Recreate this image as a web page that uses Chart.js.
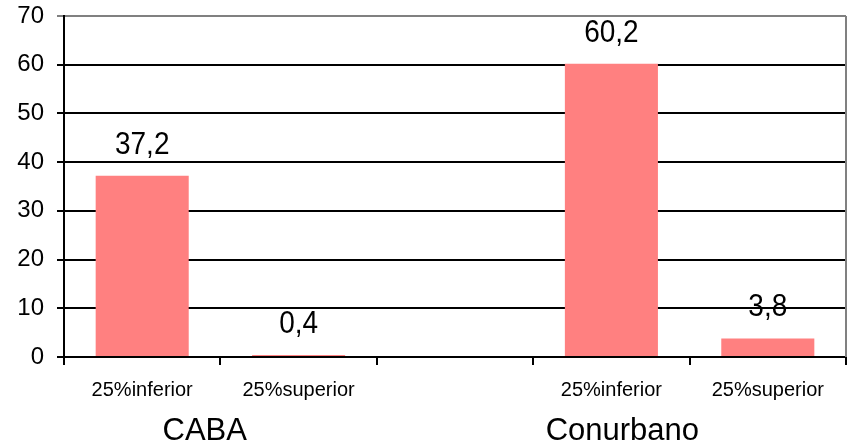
<!DOCTYPE html>
<html>
<head>
<meta charset="utf-8">
<script src="https://cdn.jsdelivr.net/npm/chart.js@4"></script>
<style>
  html, body { margin: 0; padding: 0; background: #fff; }
  #wrap { width: 849px; height: 445px; position: relative; }
</style>
</head>
<body>
<div id="wrap"><canvas id="chart"></canvas></div>
<script>
// Categories (empty slot separates the two groups)
const categories = ['25%inferior', '25%superior', '', '25%inferior', '25%superior'];
const values = [37.2, 0.4, null, 60.2, 3.8];
const valueLabels = ['37,2', '0,4', '', '60,2', '3,8'];
// Group names and their position on the category scale
const groupNames = ['CABA', 'Conurbano'];
const groupPos = [0.4, 3.07];

const FONT = '"Liberation Sans", Arial, sans-serif';

// value labels go under the grid, like the original
const valueLabelPlugin = {
    id: 'valueLabels',
    beforeDraw(chart) {
        const ctx = chart.ctx;
        const bars = chart.getDatasetMeta(0).data;
        ctx.save();
        ctx.fillStyle = '#000';
        ctx.font = '28px ' + FONT;
        ctx.textAlign = 'center';
        ctx.textBaseline = 'alphabetic';
        bars.forEach(function(bar, i) {
            if (values[i] == null) return;
            ctx.save();
            ctx.translate(bar.x, bar.y - 22);
            ctx.scale(1, 1.14);
            ctx.fillText(valueLabels[i], 0, 0);
            ctx.restore();
        });
        ctx.restore();
    }
};

const framePlugin = {
    id: 'frame',
    afterDraw(chart) {
        const ctx = chart.ctx;
        const a = chart.chartArea;
        const x = chart.scales.x;
        ctx.save();
        // right border
        ctx.strokeStyle = '#808080';
        ctx.lineWidth = 2;
        ctx.beginPath();
        ctx.moveTo(a.right, a.top);
        ctx.lineTo(a.right, a.bottom);
        ctx.stroke();
        // group names
        ctx.fillStyle = '#000';
        ctx.font = '31px ' + FONT;
        ctx.textAlign = 'center';
        ctx.textBaseline = 'alphabetic';
        groupNames.forEach(function(name, i) {
            ctx.fillText(name, x.getPixelForValue(groupPos[i]), 440);
        });
        ctx.restore();
    }
};

new Chart(document.getElementById('chart'), {
    type: 'bar',
    data: {
        labels: categories,
        datasets: [{
            data: values,
            backgroundColor: '#FF8080',
            borderWidth: 0,
            categoryPercentage: 1,
            barPercentage: 0.595
        }]
    },
    options: {
        responsive: true,
        maintainAspectRatio: false,
        animation: false,
        layout: { padding: { left: 0, right: 3, top: 16, bottom: 0 } },
        plugins: {
            legend: { display: false },
            tooltip: { enabled: false }
        },
        scales: {
            x: {
                afterFit: function(s) { s.height = 88; s.paddingLeft = 0; s.paddingRight = 0; },
                grid: {
                    display: true,
                    offset: true,
                    drawOnChartArea: false,
                    drawTicks: true,
                    tickLength: 8,
                    color: '#000',
                    lineWidth: 2
                },
                border: { display: true, color: '#000', width: 2 },
                ticks: {
                    color: '#000',
                    font: { family: FONT, size: 20 },
                    padding: 13,
                    maxRotation: 0,
                    autoSkip: false
                }
            },
            y: {
                min: 0,
                max: 70,
                afterFit: function(s) { s.width = 64; s.paddingTop = 0; s.paddingBottom = 0; },
                grid: {
                    color: function(c) { return c.tick && c.tick.value === 70 ? '#808080' : '#000'; },
                    lineWidth: 2,
                    tickLength: 7
                },
                border: { display: true, color: '#000', width: 2 },
                ticks: {
                    stepSize: 10,
                    color: '#000',
                    font: { family: FONT, size: 24 },
                    padding: 13
                }
            }
        }
    },
    plugins: [valueLabelPlugin, framePlugin]
});
</script>
</body>
</html>
